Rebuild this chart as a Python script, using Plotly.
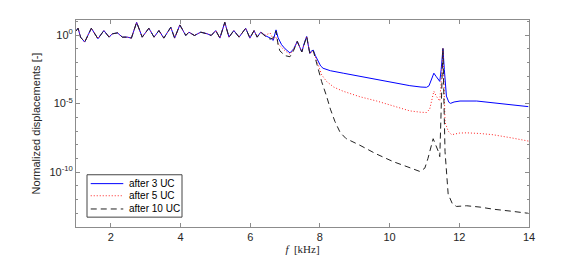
import plotly.graph_objects as go

# Shared low-frequency part (kHz, log10 of normalized displacement)
f_low = [1.00, 1.06, 1.13, 1.25, 1.44, 1.63, 1.80, 1.95, 2.04, 2.19, 2.33, 2.47, 2.59,
         2.74, 2.90, 3.09, 3.24, 3.38, 3.52, 3.72, 3.83, 3.98, 4.15, 4.24, 4.40, 4.58,
         4.77, 4.88, 5.01, 5.13, 5.27, 5.39, 5.53, 5.68, 5.87, 5.99, 6.11, 6.20]
e_low = [0.30, 0.50, -0.15, -0.51, 0.50, -0.27, 0.33, -0.15, 0.09, 0.16, -0.15, -0.15, -0.22,
         0.93, -0.15, 0.50, -0.15, 0.33, -0.22, 0.57, -0.22, 0.74, -0.03, 0.21, -0.03, 0.21,
         0.09, -0.03, 0.33, -0.22, 0.93, -0.15, 0.33, -0.15, 0.50, -0.22, 0.33, -0.15]

# after 3 UC
f_3 = [6.30, 6.44, 6.60, 6.66, 6.74, 6.80, 6.90, 7.00, 7.14, 7.25, 7.35, 7.43, 7.48, 7.55,
       7.62, 7.67, 7.71, 7.76, 7.81, 7.87, 7.95, 8.02, 8.09, 8.30, 8.67, 9.20, 9.63, 10.10,
       10.58, 10.90, 11.06, 11.13, 11.20, 11.27, 11.33, 11.40, 11.44, 11.48, 11.53, 11.57,
       11.63, 11.70, 11.75, 11.85, 12.02, 12.50, 12.97, 13.50, 13.98]
e_3 = [0.21, -0.05, -0.25, -0.39, 0.38, -0.20, -0.70, -1.00, -1.30, -1.00, -0.46, -1.00, -1.23, -0.60,
       -0.10, -0.80, -1.34, -1.15, -1.10, -1.50, -1.94, -2.25, -2.42, -2.60, -2.78, -3.03, -3.26, -3.48,
       -3.69, -3.79, -3.81, -3.70, -3.30, -2.78, -3.00, -3.30, -3.38, -2.50, -0.98, -2.50,
       -4.45, -4.90, -4.98, -4.88, -4.81, -4.81, -4.93, -5.07, -5.22]

# after 5 UC
f_5 = [6.30, 6.44, 6.57, 6.66, 6.74, 6.80, 6.90, 7.00, 7.14, 7.25, 7.35, 7.48, 7.62, 7.71,
       7.81, 7.95, 8.05, 8.19, 8.40, 8.67, 9.15, 9.63, 10.10, 10.58, 10.90, 11.06, 11.15,
       11.22, 11.27, 11.35, 11.44, 11.49, 11.53, 11.56, 11.59, 11.68, 11.78, 12.00, 12.21,
       12.60, 12.97, 13.50, 13.98]
e_5 = [0.21, 0.00, 0.15, -0.30, -0.10, -0.63, -0.90, -1.15, -1.40, -1.00, -0.46, -1.23, -0.10, -1.34,
       -1.15, -2.18, -2.90, -3.38, -3.80, -4.10, -4.50, -4.81, -5.18, -5.53, -5.63, -5.65, -5.40,
       -4.60, -4.10, -4.50, -4.81, -3.00, -1.00, -3.50, -6.36, -7.00, -7.27, -7.15, -7.13,
       -7.18, -7.27, -7.50, -7.73]

# after 10 UC
f_10 = [6.30, 6.44, 6.57, 6.66, 6.74, 6.80, 6.85, 7.00, 7.14, 7.25, 7.35, 7.48, 7.62, 7.71,
        7.81, 7.95, 8.05, 8.19, 8.30, 8.43, 8.58, 8.75, 9.00, 9.15, 9.60, 10.10, 10.50, 10.87,
        11.01, 11.10, 11.25, 11.33, 11.40, 11.44, 11.49, 11.53, 11.56, 11.59, 11.68, 11.80,
        11.92, 12.21, 12.60, 12.97, 13.50, 13.98]
e_10 = [0.21, -0.10, -0.30, -0.20, 0.30, -0.70, -1.15, -1.50, -1.58, -1.10, -0.46, -1.23, -0.10, -1.34,
        -1.15, -2.42, -3.40, -4.45, -5.40, -6.30, -7.10, -7.55, -7.85, -8.04, -8.65, -9.23, -9.60, -9.95,
        -9.71, -9.00, -7.56, -8.04, -8.50, -8.87, -5.00, -0.98, -5.00, -8.50, -11.60, -12.30,
        -12.50, -12.45, -12.55, -12.70, -12.85, -13.00]

labels = ["after 3 UC", "after 5 UC", "after 10 UC"]
y_tickvals = [1e-10, 1e-5, 1]
y_ticktext = ["10<sup>-10</sup>", "10<sup>-5</sup>", "10<sup>0</sup>"]
x_tickvals = [2, 4, 6, 8, 10, 12, 14]

colors = ["#0000ff", "#ff2020", "#222222"]
dashes = ["solid", "1px,2px", "6px,4px"]


def vals(es):
    return [10 ** e for e in es]


fig = go.Figure()
series = [(f_low + f_3, e_low + e_3), (f_low + f_5, e_low + e_5), (f_low + f_10, e_low + e_10)]
for (fx, ey), name, c, d in zip(series, labels, colors, dashes):
    fig.add_trace(go.Scatter(x=fx, y=vals(ey), mode="lines", name=name,
                             line=dict(color=c, width=1, dash=d)))

axis_col = "#8c8c8c"
font_fam = "Liberation Sans, Arial, Helvetica, sans-serif"

# compact legend box drawn in paper coordinates
leg_x0, leg_x1, leg_y0, leg_y1 = 0.0243, 0.234, 0.0476, 0.2524
entry_y = [0.2095, 0.151, 0.0871]
shapes = [dict(type="rect", xref="paper", yref="paper", x0=leg_x0, x1=leg_x1, y0=leg_y0, y1=leg_y1,
               line=dict(color="#444444", width=1), fillcolor="white", layer="above")]
annotations = []
for yy, name, c, d in zip(entry_y, labels, colors, dashes):
    shapes.append(dict(type="line", xref="paper", yref="paper", x0=0.0325, x1=0.1044, y0=yy, y1=yy,
                       line=dict(color=c, width=1, dash=d), layer="above"))
    annotations.append(dict(xref="paper", yref="paper", x=0.1119, y=yy, xanchor="left", yanchor="middle",
                            text=name, showarrow=False, font=dict(size=10, color="#000000")))

# page body has an 8px margin, so figure is 8px smaller and margins compensate
fig.update_layout(
    width=576, height=256,
    margin=dict(l=68, r=55, t=11, b=35),
    paper_bgcolor="white", plot_bgcolor="white",
    font=dict(family=font_fam, size=11, color="#262626"),
    showlegend=False,
    shapes=shapes, annotations=annotations,
)
fig.update_xaxes(
    range=[1, 14], showgrid=False, zeroline=False,
    showline=True, linecolor=axis_col, linewidth=1, mirror="ticks",
    ticks="inside", ticklen=4, tickcolor=axis_col,
    tickvals=x_tickvals, tickfont=dict(size=11, color="#262626"),
    title=dict(text="<i>f</i>  [kHz]", standoff=2,
               font=dict(family="Liberation Serif, DejaVu Serif, serif", size=11, color="#262626")),
)
fig.update_yaxes(
    type="log", range=[-14, 1.1], showgrid=False, zeroline=False,
    showline=True, linecolor=axis_col, linewidth=1, mirror="ticks",
    ticks="inside", ticklen=4, tickcolor=axis_col,
    tickvals=y_tickvals, ticktext=y_ticktext, tickfont=dict(size=11, color="#262626"),
    minor=dict(ticks="inside", ticklen=2, tickcolor=axis_col,
               tickvals=[10 ** k for k in range(-14, 2)]),
    title=dict(text="Normalized displacements [-]", standoff=6,
               font=dict(size=11, color="#262626")),
)

fig.write_html("out.html")
